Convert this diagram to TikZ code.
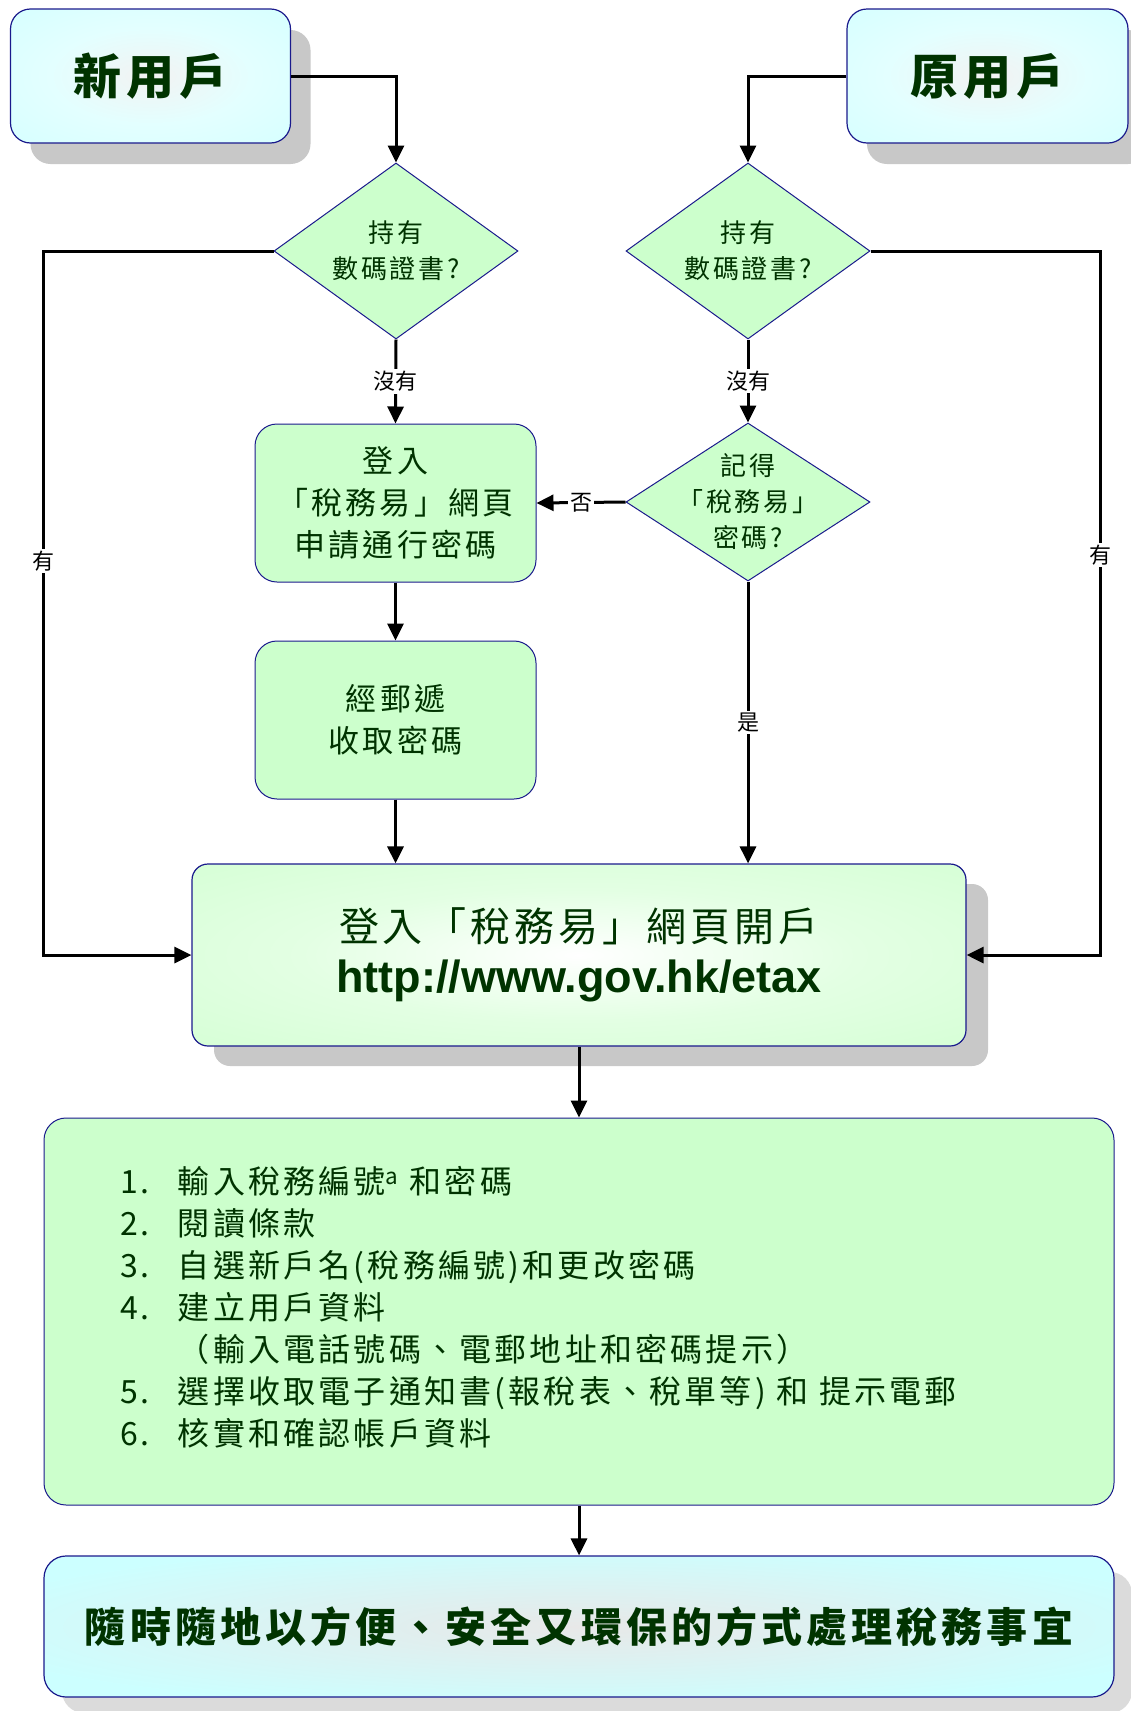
\documentclass[tikz,border=0pt]{standalone}
\usepackage{fontspec}
\usetikzlibrary{shapes.geometric,arrows.meta,shadows}
\setsansfont{Liberation Sans}
\newfontfamily\cjk[LetterSpace=10]{Noto Sans CJK TC}
\newfontfamily\cjkplain{Noto Sans CJK TC}
\definecolor{navyline}{HTML}{1A1A8C}
\definecolor{mintfill}{HTML}{CCFFCC}
\definecolor{icefill}{HTML}{CCFFFF}
\definecolor{inkgreen}{HTML}{003300}
\definecolor{shadegray}{HTML}{C8C8C8}
\pgfdeclareradialshading{iceglow}{\pgfpointorigin}{color(0bp)=(white!95!black); color(18bp)=(icefill!55!white); color(50bp)=(icefill)}
\pgfdeclareradialshading{mintglow}{\pgfpointorigin}{color(0bp)=(white); color(18bp)=(mintfill!55!white); color(50bp)=(mintfill)}
\pgfdeclareradialshading{ovalglow}{\pgfpointorigin}{color(0bp)=(white!91!black); color(30bp)=(icefill); color(50bp)=(icefill)}
\begin{document}
\begin{tikzpicture}[x=1pt,y=-1pt,
  flow/.style={line width=3pt,-{Triangle[width=16pt,length=17pt]}},
  answer/.style={font=\cjkplain\fontsize{22}{22}\selectfont,fill=white,inner sep=2pt},
  startbox/.style={draw=navyline,line width=1.2pt,rounded corners=20pt,shade,shading=iceglow,
      minimum width=280pt,minimum height=134pt,
      drop shadow={shadow xshift=20pt,shadow yshift=-21pt,fill=shadegray,opacity=1},
      font=\cjk\bfseries\fontsize{48}{48}\selectfont,text=inkgreen},
  decision/.style={diamond,draw=navyline,line width=1pt,fill=mintfill,
      minimum width=244pt,minimum height=176pt,inner sep=0pt},
  dtext/.style={font=\cjk\fontsize{26}{36}\selectfont,text=inkgreen,align=center},
  stepbox/.style={draw=navyline,line width=1pt,fill=mintfill,rounded corners=22pt,
      minimum width=281pt,minimum height=158pt,align=center,
      font=\cjk\fontsize{31}{42}\selectfont,text=inkgreen},
  portalbox/.style={draw=navyline,line width=1.2pt,rounded corners=16pt,shade,shading=mintglow,
      minimum width=774pt,minimum height=182pt,align=center,text=inkgreen,
      font=\fontsize{40}{51}\selectfont,
      drop shadow={shadow xshift=22pt,shadow yshift=-20pt,fill=shadegray,opacity=1}},
  listbox/.style={draw=navyline,line width=1pt,fill=mintfill,rounded corners=22pt,
      minimum width=1070pt,minimum height=387pt,inner xsep=76pt,
      text width=918pt,align=left,text=inkgreen,font=\cjk\fontsize{32}{42}\selectfont},
  goalbox/.style={draw=navyline,line width=1.2pt,rounded corners=22pt,shade,shading=ovalglow,
      minimum width=1070pt,minimum height=141pt,text=inkgreen,
      drop shadow={shadow xshift=18pt,shadow yshift=-16pt,fill=black!14,opacity=1},
      font=\cjk\bfseries\fontsize{41}{41}\selectfont}
  ]
  \useasboundingbox (0,0) rectangle (1131,1711);
  \node[startbox] (newuser) at (150.5,76) {新用戶};
  \node[startbox,minimum width=281pt] (olduser) at (987.5,76) {原用戶};
  \node[decision,label={[dtext]center:持有\\數碼證書?}] (cert1) at (396,251) {};
  \node[decision,label={[dtext]center:持有\\數碼證書?}] (cert2) at (748,251) {};
  \node[stepbox] (apply) at (395.5,503) {登入\\「稅務易」網頁\\申請通行密碼};
  \node[decision,minimum height=158pt,label={[dtext]center:記得\\「稅務易」\\密碼?}] (recall) at (748,502) {};
  \node[stepbox] (mail) at (395.5,720) {經郵遞\\收取密碼};
  \node[portalbox] (portal) at (579,955)
    {{\cjk 登入「稅務易」網頁開戶}\\
     {\sffamily\bfseries\fontsize{45}{51}\selectfont http://www.gov.hk/etax}};
  \node[listbox] (steps) at (579,1311.5) {%
    \begin{tabular}{@{}l@{\hspace{28pt}}l@{}}
      1. & 輸入稅務編號\textsuperscript{a} 和密碼\\
      2. & 閱讀條款\\
      3. & 自選新戶名(稅務編號)和更改密碼\\
      4. & 建立用戶資料\\
         & （輸入電話號碼、電郵地址和密碼提示）\\
      5. & 選擇收取電子通知書(報稅表、稅單等) 和 提示電郵\\
      6. & 核實和確認帳戶資料
    \end{tabular}};
  \node[goalbox] (goal) at (579,1626.5) {隨時隨地以方便、安全又環保的方式處理稅務事宜};
  % connectors
  \coordinate (lbend) at (43,251);
  \coordinate (rbend) at (1100,251);
  \draw[flow] (newuser.east) -| (cert1.north);
  \draw[flow] (olduser.west) -| (cert2.north);
  \draw[flow] (cert1.south) -- node[answer] {沒有} (apply.north);
  \draw[flow] (cert2.south) -- node[answer] {沒有} (recall.north);
  \draw[flow] (recall.west) -- node[answer] {否} (apply.east);
  \draw[flow] (apply.south) -- (mail.north);
  \draw[flow] (mail.south) -- (mail.south |- portal.north);
  \draw[flow] (recall.south) -- node[answer] {是} (recall.south |- portal.north);
  \draw[flow] (cert1.west) -- (lbend) |- node[answer,pos=0.22] {有} (portal.west);
  \draw[flow] (cert2.east) -- (rbend) |- node[answer,pos=0.216] {有} (portal.east);
  \draw[flow] (portal.south) -- (steps.north);
  \draw[flow] (steps.south) -- (goal.north);
\end{tikzpicture}
\end{document}
